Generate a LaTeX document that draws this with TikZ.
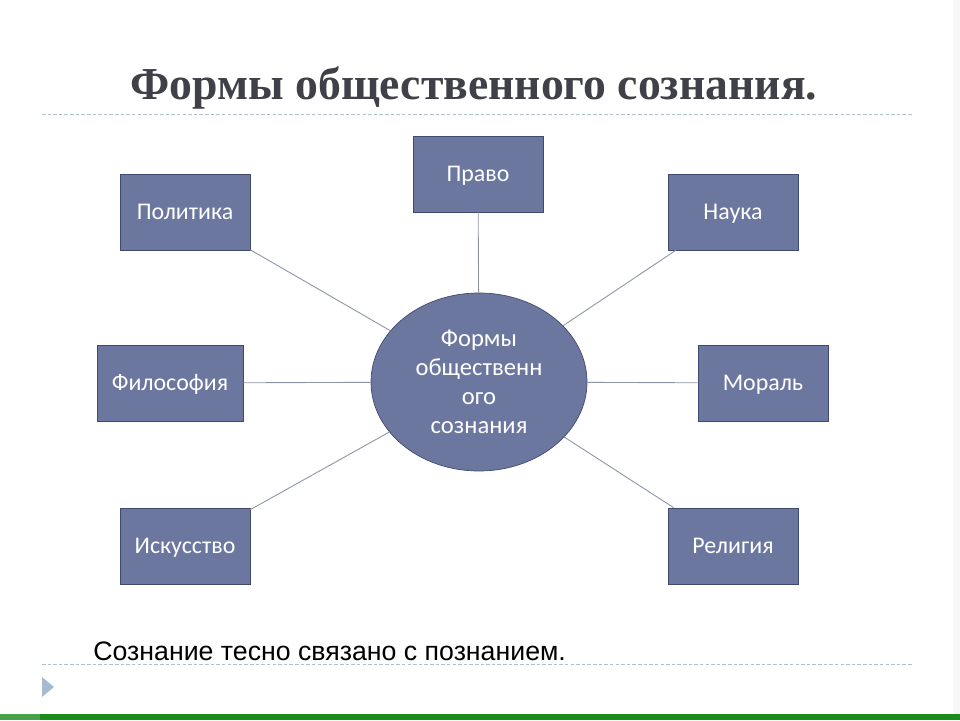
\documentclass[tikz,border=0pt]{standalone}
\usepackage{fontspec}
\setmainfont{Carlito}
\newfontfamily\titlefont{Liberation Serif}
\newfontfamily\notefont{Liberation Sans}
\usetikzlibrary{shapes.geometric}

\definecolor{boxfill}{RGB}{108,119,160}
\definecolor{boxline}{RGB}{64,74,112}
\definecolor{linkgray}{RGB}{140,148,164}
\definecolor{rulecol}{RGB}{170,195,205}
\definecolor{titlegray}{RGB}{64,64,72}
\definecolor{barfill}{RGB}{26,140,26}
\definecolor{tricol}{RGB}{165,188,208}

\begin{document}
\begin{tikzpicture}[
  form/.style={draw=boxline, fill=boxfill, text=white, minimum width=2.6cm, minimum height=1.52cm, inner sep=0pt, text height=2.0ex, text depth=0.18ex, font=\fontsize{13.6}{15}\selectfont},
  core/.style={draw=boxline, fill=boxfill, text=white, ellipse, minimum width=4.32cm, minimum height=3.56cm, inner sep=0pt, align=center, font=\fontsize{14}{16.5}\selectfont},
  link/.style={draw=linkgray, line width=0.5pt}
]
\useasboundingbox (0,0) rectangle (19.2,14.4);
\fill[gray!6] (19.06,0) rectangle (19.2,14.4);
\fill[barfill] (0,0) rectangle (19.2,0.12);
\fill[barfill!80!white] (0,0) rectangle (0.8,0.12);

\node[anchor=base, text=titlegray, font=\titlefont\bfseries\fontsize{26}{30}\selectfont] (title) at (9.48, 12.4) {Формы общественного сознания.};
\draw[rulecol, dash pattern=on 2pt off 1.2pt] (0.84, 12.12) -- (18.26, 12.12);

\node[core] (C) at (9.58, 6.76) {Формы\\общественн\\ого\\сознания};
\node[form] (pol) at (3.7, 10.16) {Политика};
\node[form] (pra) at (9.56, 10.92) {Право};
\node[form] (nau) at (14.66, 10.16) {Наука};
\node[form, minimum width=2.92cm] (fil) at (3.4, 6.74) {Философия};
\node[form] (mor) at (15.26, 6.74) {Мораль};
\node[form] (isk) at (3.7, 3.48) {Искусство};
\node[form] (rel) at (14.66, 3.48) {Религия};

\draw[link] (pol) -- (C);
\draw[link] (pra) -- (C);
\draw[link] (nau) -- (C);
\draw[link] (fil) -- (C);
\draw[link] (mor) -- (C);
\draw[link] (isk) -- (C);
\draw[link] (rel) -- (C);

\node[anchor=base west, inner sep=0pt, font=\notefont\fontsize{15.2}{18}\selectfont] (note) at (1.86, 1.2) {Сознание тесно связано с познанием.};
\draw[rulecol, dash pattern=on 2pt off 1.2pt] (0.84, 1.12) -- (18.26, 1.12);
\fill[tricol] (0.84,0.86) -- (1.08,0.66) -- (0.84,0.46) -- cycle;

\end{tikzpicture}
\end{document}
